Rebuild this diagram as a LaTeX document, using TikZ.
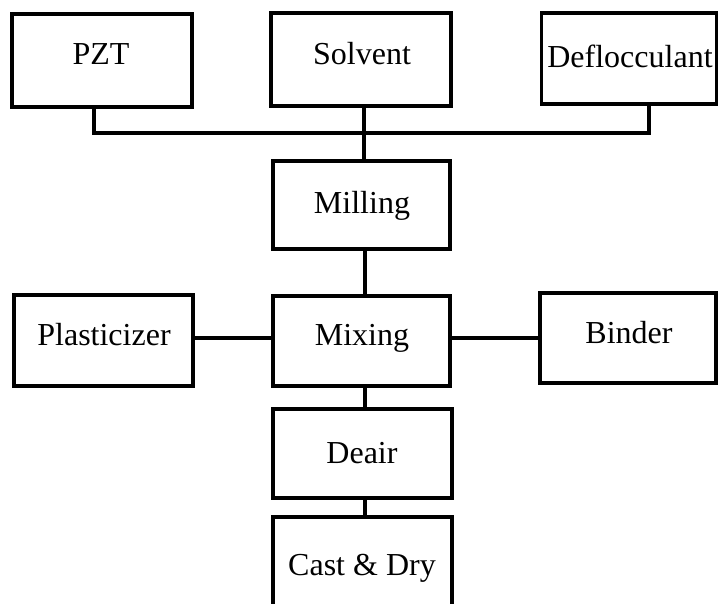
\documentclass[tikz,border=0pt]{standalone}
\usepackage{fontspec}
\setmainfont{Liberation Serif}
\begin{document}
\begin{tikzpicture}[x=1pt,y=-1pt,
  box/.style={draw=black,line width=3.6pt,rectangle,inner sep=0pt},
  lbl/.style={anchor=base,inner sep=0pt,font=\fontsize{32}{36}\selectfont},
  conn/.style={draw=black,line width=3.4pt}]
\useasboundingbox (0,0) rectangle (719,603);
% boxes
\node[box,minimum width=180pt,minimum height=93pt] (pzt) at (102,60.5) {};
\node[box,minimum width=180pt,minimum height=93pt] (solv) at (361,59.5) {};
\node[box,minimum width=175pt,minimum height=91pt] (defl) at (629,58.5) {};
\node[box,minimum width=177pt,minimum height=88pt] (mill) at (361.5,205) {};
\node[box,minimum width=177pt,minimum height=90pt] (mix) at (361.5,341) {};
\node[box,minimum width=179pt,minimum height=91pt] (plast) at (103.5,340.5) {};
\node[box,minimum width=176pt,minimum height=90pt] (bind) at (628,338) {};
\node[box,minimum width=179pt,minimum height=89pt] (deair) at (362.5,453.5) {};
\node[box,minimum width=179pt,minimum height=103pt] (cast) at (362.5,568.5) {};
% labels
\node[lbl] (tpzt) at (101,64) {PZT};
\node[lbl] (tsolv) at (362,64) {Solvent};
\node[lbl] (tdefl) at (630,67) {Deflocculant};
\node[lbl] (tmill) at (362,213) {Milling};
\node[lbl] (tmix) at (362,345) {Mixing};
\node[lbl] (tplast) at (104,345) {Plasticizer};
\node[lbl] (tbind) at (629,343) {Binder};
\node[lbl] (tdeair) at (362,463) {Deair};
\node[lbl] (tcast) at (362,575) {Cast \& Dry};
% connectors
\coordinate (j1) at (94,133);
\coordinate (j2) at (649,133);
\coordinate (j3) at (364,133);
\coordinate (j4) at (365,338);
\draw[conn] (pzt.south -| j1) -- (j1) -- (j2) -- (defl.south -| j2);
\draw[conn] (solv.south -| j3) -- (mill.north -| j3);
\draw[conn] (mill.south -| j4) -- (mix.north -| j4);
\draw[conn] (plast.east |- j4) -- (mix.west |- j4);
\draw[conn] (mix.east |- j4) -- (bind.west |- j4);
\draw[conn] (mix.south -| j4) -- (deair.north -| j4);
\draw[conn] (deair.south -| j4) -- (cast.north -| j4);
\end{tikzpicture}
\end{document}
